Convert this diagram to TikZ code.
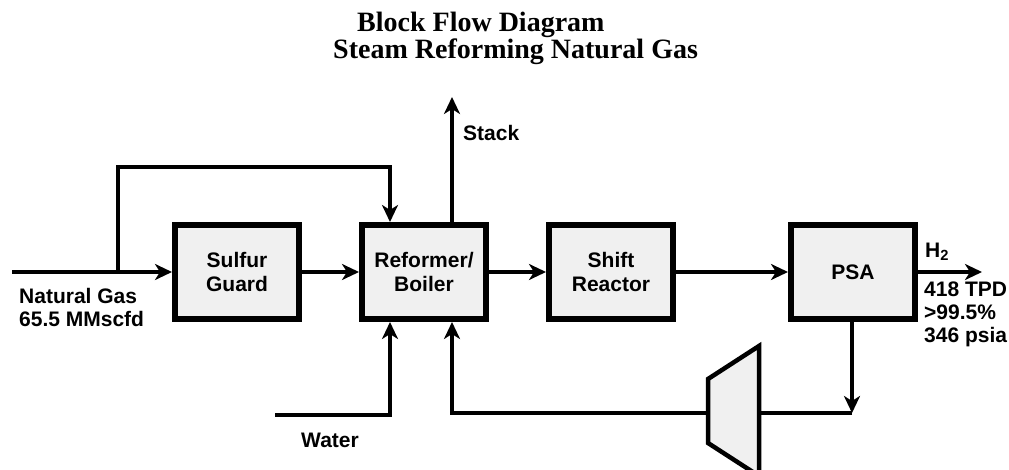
\documentclass[tikz,border=0pt]{standalone}
\usepackage{fontspec}
\setmainfont{Liberation Sans}
\newfontfamily\titlefont{Liberation Serif}
\usetikzlibrary{arrows.meta,positioning}

\begin{document}
\begin{tikzpicture}[x=1pt,y=-1pt,>={Stealth[length=17pt,width=16pt,inset=5pt]},
  lbl/.style={font=\fontsize{21}{23}\selectfont\bfseries,align=left,inner sep=0pt},
  unit/.style={draw,line width=6pt,fill=gray!12,minimum width=124pt,minimum height=94pt,
    font=\fontsize{21}{24}\selectfont\bfseries,align=center},
  flow/.style={line width=4pt,line cap=butt}]
\useasboundingbox (0,0) rectangle (1009,470);
\node[anchor=west,font=\titlefont\fontsize{28}{30}\selectfont\bfseries,inner sep=0pt] (title1) at (357,25) {Block Flow Diagram};
\node[anchor=west,font=\titlefont\fontsize{28}{30}\selectfont\bfseries,inner sep=0pt] (title2) at (333,52) {Steam Reforming Natural Gas};
\node[unit] (sulfur) at (237,272) {Sulfur\\Guard};
\node[unit,right=57pt of sulfur] (reformer) {Reformer/\\Boiler};
\node[unit,right=57pt of reformer] (shift) {Shift\\Reactor};
\node[unit,right=112pt of shift] (psa) {PSA};
\coordinate (ngin) at (12,272);
\coordinate (byp) at (118,272);
\coordinate (bypTop) at (390,167);
\coordinate (stackout) at (452,97);
\coordinate (h2out) at (982,272);
\coordinate (waterin) at (275,415);
\coordinate (rcy) at (852,413);
\coordinate (compL) at (708,413);
\coordinate (compR) at (759,413);
\draw[flow,->] (ngin) -- (sulfur);
\draw[flow,->] (byp) |- (bypTop) -- (bypTop |- reformer.north);
\draw[flow,->] (stackout |- reformer.north) -- (stackout);
\draw[flow,->] (sulfur) -- (reformer);
\draw[flow,->] (reformer) -- (shift);
\draw[flow,->] (shift) -- (psa);
\draw[flow,->] (psa) -- (h2out);
\draw[flow,->] (waterin) -| (bypTop |- reformer.south);
\draw[flow,->] (rcy |- psa.south) -- (rcy);
\draw[flow] (rcy) -- (compR);
\draw[flow,->] (compL) -| (stackout |- reformer.south);
\begin{scope}
\clip (0,0) rectangle (1009,470);
\draw[line width=4.5pt,fill=gray!12,line join=miter] (708,379) -- (759,346) -- (759,476) -- (708,443) -- cycle;
\end{scope}
\node[lbl,anchor=west] (stacklbl) at (463,133) {Stack};
\node[lbl,anchor=west] (nglbl) at (19,307) {Natural Gas\\65.5 MMscfd};
\node[lbl] (waterlbl) at (330,440) {Water};
\node[lbl,anchor=west] (h2lbl) at (925,252) {H\textsubscript{2}};
\node[lbl,anchor=west] (h2data) at (924,314) {418 TPD\\>99.5\%\\346 psia};
\end{tikzpicture}
\end{document}
